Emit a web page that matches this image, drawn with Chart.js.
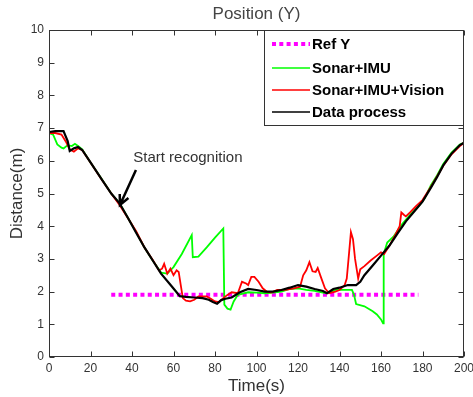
<!DOCTYPE html>
<html>
<head>
<meta charset="utf-8">
<script src="https://cdn.jsdelivr.net/npm/chart.js@4.4.0/dist/chart.umd.min.js"></script>
<style>
  html, body { margin: 0; padding: 0; background: #fff; }
  #wrap { width: 473px; height: 397px; }
</style>
</head>
<body>
<div id="wrap"><canvas id="posY"></canvas></div>
<script>
// reference line
const refT = [30, 178];
const refY = [1.9, 1.9];

// Sonar+IMU
const sonarT = [0,2,4,6,7,9,11,12.5,14,16,20,25,30,34,38,42,46,50,54,57,60,64,68.8,69.3,72,76,80,84,84.5,86,87.5,89,91,96,100,104,108,112,116,120,124,128,132,134,138,142,146,147,148,152,156,158,160,161,161.3,163,166,170,174,178,181,184,187,190,194,198,200];
const sonarY = [6.85,6.8,6.5,6.4,6.38,6.48,6.45,6.52,6.45,6.35,5.95,5.48,5.0,4.7,4.26,3.82,3.35,2.95,2.58,2.55,2.75,3.15,3.73,3.05,3.07,3.35,3.65,3.93,1.6,1.48,1.45,1.7,1.9,1.98,1.97,1.95,1.97,2.0,2.08,2.1,2.05,2.02,1.97,1.95,2.05,2.05,2.05,1.9,1.62,1.55,1.4,1.3,1.15,1.03,3.15,3.5,3.68,4.05,4.35,4.6,4.85,5.25,5.55,5.9,6.25,6.5,6.55];

// Sonar+IMU+Vision
const visionT = [0,3,6,8,10,12,14,16,20,25,30,34,38,42,46,50,53,54.5,55.5,57,58.5,60,61.5,62.5,63.5,64.5,66,68,70,72,76,78,80,82,84,86,88,91,93,95,96,97.5,99,101,103,105,107,110,114,118,121,122.5,124,125.5,127,128.5,129.5,131,133,135,138,140,142.5,143.5,144.5,145.5,146.5,147.5,149,150,152,155,158,160,161.5,164,167,169,169.8,171,172,174,177,180,184,187,190,194,198,200];
const visionY = [6.85,6.85,6.8,6.6,6.35,6.28,6.38,6.33,5.95,5.47,5.0,4.65,4.25,3.85,3.35,2.97,2.65,2.7,2.85,2.55,2.7,2.5,2.65,2.6,2.2,1.8,1.72,1.7,1.75,1.85,1.85,1.78,1.7,1.68,1.8,1.9,1.98,1.95,2.3,2.25,2.2,2.45,2.45,2.3,2.1,2.0,1.97,2.05,2.05,2.1,2.15,2.5,2.65,2.9,2.62,2.6,2.72,2.45,2.1,1.95,2.0,2.05,2.2,2.4,3.1,3.82,3.6,3.0,2.4,2.68,2.78,2.95,3.1,3.2,3.15,3.4,3.75,4.0,4.42,4.35,4.3,4.42,4.62,4.8,5.2,5.52,5.85,6.2,6.45,6.55];

// Data process
const procT = [0,3,7,9,10,12,14,16,20,25,30,34,38,42,46,50,54,58,61,63,66,70,74,77,79,81,83,85,88,92,96,100,104,108,112,116,120,124,128,132,134,137,140,144,148,150,152,156,160,164,168,172,176,180,184,187,190,194,198,200];
const procY = [6.88,6.91,6.91,6.6,6.3,6.38,6.42,6.33,5.95,5.47,5.0,4.7,4.26,3.8,3.35,2.95,2.55,2.25,2.02,1.86,1.84,1.82,1.8,1.75,1.68,1.63,1.74,1.78,1.82,1.98,2.08,2.05,2.0,2.0,2.05,2.12,2.2,2.15,2.08,2.02,1.95,2.08,2.12,2.2,2.2,2.3,2.5,2.8,3.1,3.4,3.78,4.15,4.45,4.75,5.17,5.5,5.86,6.22,6.48,6.55];

// note arrow: text anchor, tail, tip (data units)
const noteText = 'Start recognition';
const notePos = [40.6, 6.09];
const arrowFrom = [41.9, 5.72];
const arrowTo = [34.2, 4.65];

const xTicks = [0,20,40,60,80,100,120,140,160,180,200];

const FONT = 'Liberation Sans, Arial, sans-serif';

function pts(t, v) {
  return t.map((x, i) => ({ x: x, y: v[i] }));
}

// MATLAB-like box, inward ticks, legend and annotation
const matlabBox = {
  id: 'matlabBox',
  afterDatasetsDraw(chart) {
    const { ctx, chartArea: a, scales: { x, y } } = chart;
    const L = Math.round(a.left) + 0.5, R = Math.round(a.right) - 0.5;
    const T = Math.round(a.top) + 0.5, B = Math.round(a.bottom) - 0.5;
    ctx.save();
    ctx.strokeStyle = '#333';
    ctx.lineWidth = 1;
    ctx.strokeRect(L, T, R - L, B - T);
    ctx.beginPath();
    x.ticks.forEach(tk => {
      const px = Math.round(x.getPixelForValue(tk.value)) + 0.5;
      ctx.moveTo(px, B); ctx.lineTo(px, B - 5);
      ctx.moveTo(px, T); ctx.lineTo(px, T + 5);
    });
    y.ticks.forEach(tk => {
      const py = Math.round(y.getPixelForValue(tk.value)) + 0.5;
      ctx.moveTo(L, py); ctx.lineTo(L + 5, py);
      ctx.moveTo(R, py); ctx.lineTo(R - 5, py);
    });
    ctx.stroke();

    // annotation
    ctx.fillStyle = '#333';
    ctx.font = '15px ' + FONT;
    ctx.textBaseline = 'middle';
    ctx.textAlign = 'left';
    ctx.fillText(noteText, x.getPixelForValue(notePos[0]), y.getPixelForValue(notePos[1]));
    const x0 = x.getPixelForValue(arrowFrom[0]), y0 = y.getPixelForValue(arrowFrom[1]);
    const x1 = x.getPixelForValue(arrowTo[0]), y1 = y.getPixelForValue(arrowTo[1]);
    const ang = Math.atan2(y1 - y0, x1 - x0);
    ctx.strokeStyle = '#000';
    ctx.lineWidth = 2.5;
    ctx.beginPath();
    ctx.moveTo(x0, y0); ctx.lineTo(x1, y1);
    ctx.moveTo(x1 - 11 * Math.cos(ang - 0.45), y1 - 11 * Math.sin(ang - 0.45));
    ctx.lineTo(x1, y1);
    ctx.lineTo(x1 - 11 * Math.cos(ang + 0.45), y1 - 11 * Math.sin(ang + 0.45));
    ctx.stroke();

    // legend
    const lx = 264.5, ly = T, lw = R - 264.5, lh = 95;
    ctx.fillStyle = '#fff';
    ctx.fillRect(lx, ly, lw, lh);
    ctx.strokeStyle = '#333';
    ctx.lineWidth = 1;
    ctx.strokeRect(lx, ly, lw, lh);
    const rows = [44, 68, 90, 112];
    ctx.font = 'bold 15px ' + FONT;
    ctx.textBaseline = 'middle';
    chart.data.datasets.forEach((ds, i) => {
      ctx.save();
      ctx.strokeStyle = ds.borderColor;
      ctx.lineWidth = ds.borderDash ? 4 : 1.5;
      ctx.setLineDash(ds.borderDash || []);
      ctx.beginPath();
      ctx.moveTo(272, rows[i]); ctx.lineTo(310, rows[i]);
      ctx.stroke();
      ctx.restore();
      ctx.fillStyle = '#000';
      ctx.fillText(ds.label, 312, rows[i] + 1);
    });
    ctx.restore();
  }
};

const ctx = document.getElementById('posY');
const posChart = new Chart(ctx, {
  type: 'line',
  data: {
    datasets: [
      { label: 'Ref Y', data: pts(refT, refY), borderColor: '#ff00ff', borderWidth: 4, borderDash: [4, 3.3], order: 4 },
      { label: 'Sonar+IMU', data: pts(sonarT, sonarY), borderColor: '#00ff00', borderWidth: 1.8, order: 3 },
      { label: 'Sonar+IMU+Vision', data: pts(visionT, visionY), borderColor: '#ff0000', borderWidth: 1.8, order: 2 },
      { label: 'Data process', data: pts(procT, procY), borderColor: '#000000', borderWidth: 2.2, order: 1 }
    ]
  },
  options: {
    responsive: true,
    maintainAspectRatio: false,
    animation: false,
    layout: { padding: { top: 30, right: 9, left: 0, bottom: 0 } },
    elements: {
      point: { radius: 0 },
      line: { tension: 0, fill: false }
    },
    plugins: {
      legend: { display: false },
      tooltip: { enabled: false },
      title: { display: false }
    },
    scales: {
      x: {
        type: 'linear',
        min: 0,
        max: 200,
        afterFit: s => { s.height = 40; s.paddingLeft = 0; s.paddingRight = 0; },
        afterBuildTicks: s => { s.ticks = xTicks.map(v => ({ value: v })); },
        ticks: { color: '#333', font: { family: FONT, size: 12 }, padding: 4, maxRotation: 0 },
        grid: { display: false, drawTicks: false },
        border: { display: false },
        title: { display: true, text: 'Time(s)', color: '#333', font: { family: FONT, size: 17 }, padding: 0 }
      },
      y: {
        min: 0,
        max: 10,
        afterFit: s => { s.width = 49; s.paddingTop = 0; s.paddingBottom = 0; },
        ticks: { stepSize: 1, color: '#333', font: { family: FONT, size: 12 }, padding: 5 },
        grid: { display: false, drawTicks: false },
        border: { display: false },
        title: { display: true, text: 'Distance(m)', color: '#333', font: { family: FONT, size: 17 }, padding: { top: 7, bottom: 0 } }
      }
    }
  },
  plugins: [matlabBox, {
    id: 'topTitle',
    afterDraw(chart) {
      const c = chart.ctx, a = chart.chartArea;
      c.save();
      c.fillStyle = '#444';
      c.font = '17px ' + FONT;
      c.textAlign = 'center';
      c.textBaseline = 'middle';
      c.fillText('Position (Y)', (a.left + a.right) / 2, 14);
      c.restore();
    }
  }]
});
</script>
</body>
</html>
